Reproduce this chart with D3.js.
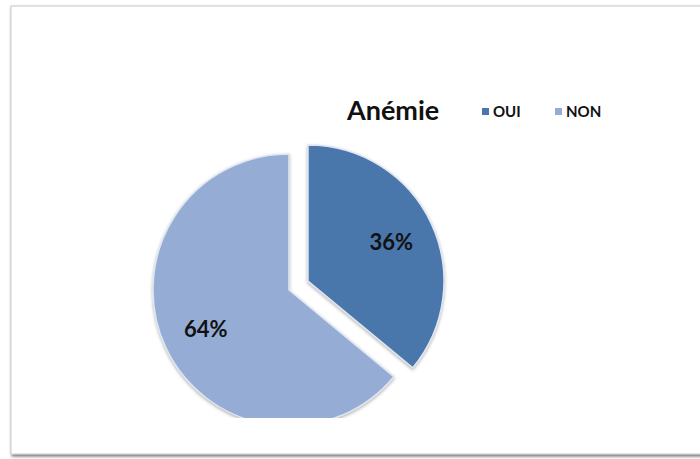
<!DOCTYPE html>
<html>
<head>
<meta charset="utf-8">
<script src="https://cdn.jsdelivr.net/npm/d3@7"></script>
<style>
  body { margin: 0; background: #fff; }
  svg { display: block; font-family: Lato, "Open Sans", sans-serif; }
</style>
</head>
<body>
<div id="chart"></div>
<script>
var categories = ['OUI', 'NON']
var values = [36, 64]
var colors = ['#4a76ab', '#95acd5']
var title = 'Anémie'

var width = 700
var height = 459
var radius = 136
var explode = 21
var cx = 289
var cy = 290

var svg = d3.select('#chart')
  .append('svg')
  .attr('width', width)
  .attr('height', height)

var defs = svg.append('defs')

// frame shadow
var fs = defs.append('filter').attr('id', 'frameShadow')
  .attr('x', '-5%').attr('y', '-5%').attr('width', '110%').attr('height', '110%')
fs.append('feDropShadow')
  .attr('dx', 1).attr('dy', 2).attr('stdDeviation', 1.5)
  .attr('flood-color', '#000').attr('flood-opacity', 0.55)

var ss = defs.append('filter').attr('id', 'sliceShadow')
  .attr('x', '-10%').attr('y', '-10%').attr('width', '120%').attr('height', '120%')
ss.append('feDropShadow')
  .attr('dx', 0).attr('dy', 1.5).attr('stdDeviation', 1.5)
  .attr('flood-color', '#555').attr('flood-opacity', 0.45)

defs.append('clipPath').attr('id', 'plotClip')
  .append('rect')
  .attr('x', 0).attr('y', 0)
  .attr('width', width).attr('height', 418)

// outer frame
svg.append('rect')
  .attr('x', 11).attr('y', 6)
  .attr('width', width + 20).attr('height', 448)
  .attr('fill', '#fff')
  .attr('stroke', '#c8c8c8')
  .attr('stroke-width', 1)
  .attr('filter', 'url(#frameShadow)')

var pie = d3.pie().sort(null).value(d => d)
var arcs = pie(values)

var arc = d3.arc().innerRadius(0).outerRadius(radius)
var labelArc = d3.arc().innerRadius(92).outerRadius(92)

var pieG = svg.append('g')
  .attr('clip-path', 'url(#plotClip)')

var slices = pieG.selectAll('g.slice')
  .data(arcs)
  .join('g')
  .attr('class', 'slice')
  .attr('transform', function(d, i) {
    var off = i === 0 ? explode : 0
    var mid = (d.startAngle + d.endAngle) / 2
    return `translate(${cx + off * Math.sin(mid)},${cy - off * Math.cos(mid)})`
  })

slices.append('path')
  .attr('d', arc)
  .attr('fill', (d, i) => colors[i])
  .attr('stroke', '#dfe6f2')
  .attr('stroke-width', 1.5)
  .attr('filter', 'url(#sliceShadow)')

slices.append('text')
  .attr('transform', d => `translate(${labelArc.centroid(d)})`)
  .attr('text-anchor', 'middle')
  .attr('dy', '0.35em')
  .style('font-size', '22px')
  .style('font-weight', 'bold')
  .style('fill', '#111')
  .text(d => d.data + '%')

// title + legend
svg.append('text')
  .attr('x', 347).attr('y', 120)
  .style('font-size', '27px')
  .style('font-weight', 'bold')
  .style('fill', '#111')
  .text(title)

var legendX = d3.scalePoint()
  .domain(categories)
  .range([482, 555])

var legend = svg.selectAll('g.legend')
  .data(categories)
  .join('g')
  .attr('class', 'legend')
  .attr('transform', d => `translate(${legendX(d)},111)`)

legend.append('rect')
  .attr('x', 0).attr('y', -3)
  .attr('width', 7).attr('height', 7)
  .attr('fill', (d, i) => colors[i])

legend.append('text')
  .attr('x', 11).attr('y', 6)
  .style('font-size', '15px')
  .style('font-weight', 'bold')
  .style('fill', '#111')
  .text(d => d)
</script>
</body>
</html>
